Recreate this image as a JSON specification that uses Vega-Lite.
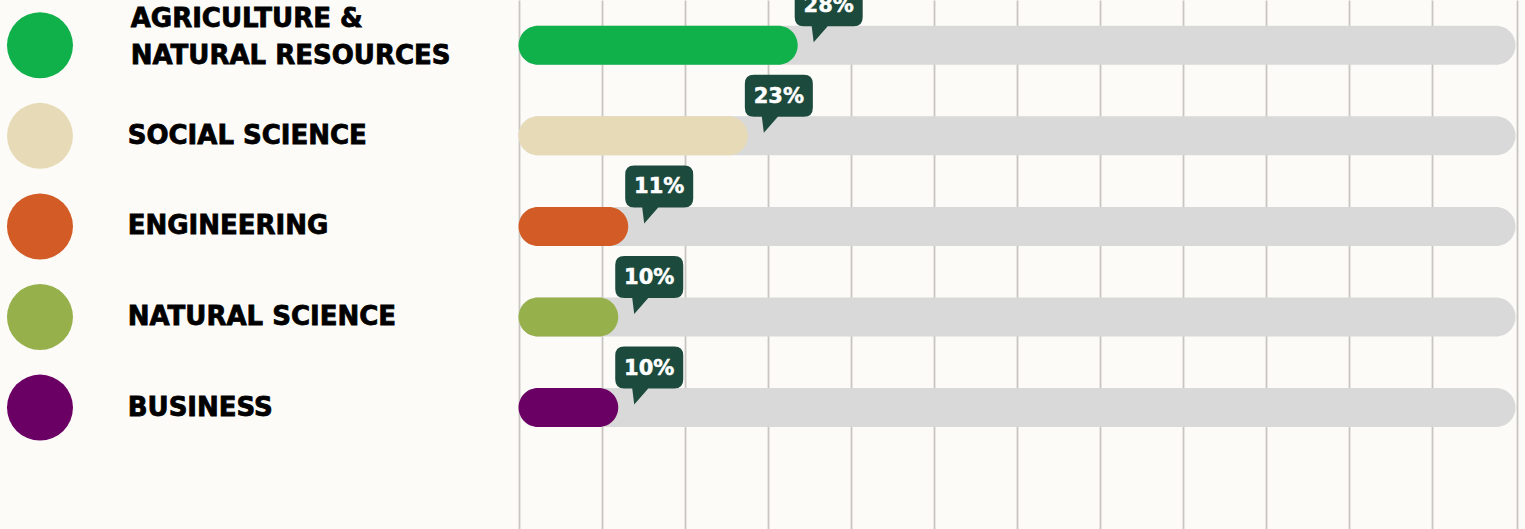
{
  "$schema": "https://vega.github.io/schema/vega-lite/v6.json",
  "width": 1525,
  "height": 529,
  "autosize": "none",
  "padding": 0,
  "background": "#fcfbf8",
  "config": {"view": {"stroke": null}},
  "data": {
    "values": [
      {"field": "AGRICULTURE &\nNATURAL RESOURCES", "pct": 28},
      {"field": "SOCIAL SCIENCE", "pct": 23},
      {"field": "ENGINEERING", "pct": 11},
      {"field": "NATURAL SCIENCE", "pct": 10},
      {"field": "BUSINESS", "pct": 10}
    ]
  },
  "encoding": {
    "y": {
      "field": "field",
      "type": "nominal",
      "sort": null,
      "axis": null,
      "scale": {"paddingInner": 0, "paddingOuter": 0.42, "align": 0}
    }
  },
  "layer": [
    {
      "mark": {"type": "bar", "height": 39, "cornerRadius": 19.5, "color": "#d9d9d9"},
      "encoding": {
        "x": {
          "datum": 100,
          "type": "quantitative",
          "stack": null,
          "scale": {"domain": [-52.01, 100.95], "nice": false, "zero": false},
          "axis": {
            "values": [0, 8.3333, 16.6667, 25, 33.3333, 41.6667, 50, 58.3333, 66.6667, 75, 83.3333, 91.6667, 100.1],
            "grid": true,
            "gridColor": "#c9c6c1",
            "gridWidth": 1.8,
            "labels": false,
            "ticks": false,
            "domain": false,
            "title": null
          }
        }
      }
    },
    {
      "mark": {"type": "bar", "height": 39, "cornerRadius": 19.5},
      "encoding": {
        "x": {"field": "pct", "type": "quantitative", "stack": null},
        "color": {
          "field": "field",
          "type": "nominal",
          "legend": null,
          "scale": {
            "domain": ["AGRICULTURE &\nNATURAL RESOURCES", "SOCIAL SCIENCE", "ENGINEERING", "NATURAL SCIENCE", "BUSINESS"],
            "range": ["#10b14b", "#e7dbb7", "#d35b26", "#96b04c", "#6a0063"]
          }
        }
      }
    },
    {
      "mark": {"type": "point", "shape": "circle", "filled": true, "opacity": 1, "size": 4356},
      "encoding": {
        "x": {"datum": -48.0, "type": "quantitative"},
        "color": {"field": "field", "type": "nominal", "legend": null}
      }
    },
    {
      "transform": [{"filter": "indexof(datum.field, '&') < 0"}],
      "mark": {"type": "text", "align": "left", "baseline": "middle", "font": "DejaVu Sans", "fontWeight": "bold", "fontSize": 26, "color": "#000000", "stroke": "#000000", "strokeWidth": 0.8},
      "encoding": {
        "x": {"datum": -39.2, "type": "quantitative"},
        "text": {"field": "field"}
      }
    },
    {
      "transform": [{"filter": "indexof(datum.field, '&') >= 0"}],
      "mark": {"type": "text", "align": "left", "baseline": "middle", "font": "DejaVu Sans", "fontWeight": "bold", "fontSize": 26, "color": "#000000", "stroke": "#000000", "strokeWidth": 0.8, "lineBreak": "\n", "lineHeight": 37, "dy": -26.5},
      "encoding": {
        "x": {"datum": -38.9, "type": "quantitative"},
        "text": {"field": "field"}
      }
    },
    {
      "mark": {
        "type": "point",
        "filled": true,
        "opacity": 1,
        "size": 4,
        "color": "#1c4a3c",
        "shape": "M6,-61 H56 Q65,-61 65,-52 V-28 Q65,-19 56,-19 H30 L16,-3 L14,-19 H6 Q-3,-19 -3,-28 V-52 Q-3,-61 6,-61 Z"
      },
      "encoding": {
        "x": {"field": "pct", "type": "quantitative"}
      }
    },
    {
      "transform": [{"calculate": "datum.pct + '%'", "as": "label"}],
      "mark": {"type": "text", "align": "center", "baseline": "middle", "font": "DejaVu Sans", "fontWeight": "bold", "fontSize": 21, "color": "#ffffff", "stroke": "#ffffff", "strokeWidth": 0.5, "dx": 31, "dy": -39},
      "encoding": {
        "x": {"field": "pct", "type": "quantitative"},
        "text": {"field": "label", "type": "nominal"}
      }
    }
  ]
}
